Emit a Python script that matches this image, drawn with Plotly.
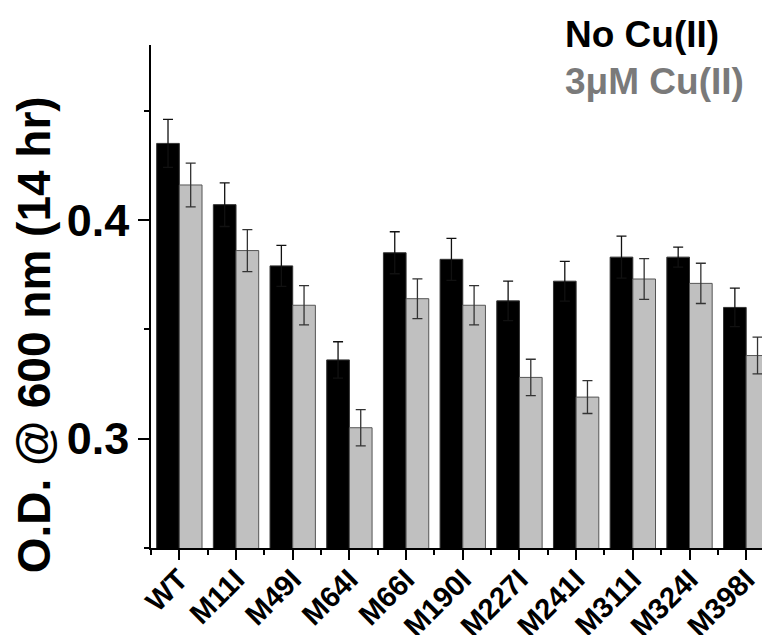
import plotly.graph_objects as go

categories = ["WT", "M11I", "M49I", "M64I", "M66I", "M190I", "M227I", "M241I", "M311I", "M324I", "M398I"]
no_cu = [0.435, 0.407, 0.379, 0.336, 0.385, 0.382, 0.363, 0.372, 0.383, 0.383, 0.360]
no_cu_err = [0.011, 0.010, 0.0094, 0.0083, 0.0096, 0.0096, 0.009, 0.0091, 0.0096, 0.0046, 0.0088]
cu3 = [0.416, 0.386, 0.361, 0.305, 0.364, 0.361, 0.328, 0.319, 0.373, 0.371, 0.338]
cu3_err = [0.010, 0.0096, 0.009, 0.0083, 0.0091, 0.009, 0.0083, 0.0075, 0.0093, 0.0092, 0.0084]

FONT = "Liberation Sans, Arial, sans-serif"
idx = list(range(len(categories)))

# page body has an 8px default margin; compensate so the plot lands where the reference has it
W, H = 762, 627
L, T, B = 143, 37, 87
PH = H - T - B

fig = go.Figure()
fig.add_trace(go.Bar(
    x=idx, y=no_cu, name="No Cu(II)",
    marker=dict(color="#000000", line=dict(color="#333333", width=1)),
    error_y=dict(type="data", array=no_cu_err, visible=True, color="#111111", thickness=1.3, width=5),
))
fig.add_trace(go.Bar(
    x=idx, y=cu3, name="3μM Cu(II)",
    marker=dict(color="#c0c0c0", line=dict(color="#555555", width=1)),
    error_y=dict(type="data", array=cu3_err, visible=True, color="#333333", thickness=1.3, width=5),
))

fig.update_layout(
    width=W, height=H,
    margin=dict(l=L, r=0, t=T, b=B),
    paper_bgcolor="white", plot_bgcolor="white",
    barmode="group", bargap=0.2, bargroupgap=0,
    showlegend=False,
    font=dict(family=FONT, color="black"),
    xaxis=dict(
        automargin=False,
        range=[-0.5, 10.42],
        tickvals=idx, ticktext=[f"<b>{c}</b>" for c in categories],
        tickangle=-45, tickfont=dict(size=29, family=FONT),
        ticklabelstandoff=-9,
        showline=True, linecolor="black", linewidth=1.5,
        ticks="outside", ticklen=10, tickwidth=1.5, tickcolor="black",
        minor=dict(ticks="outside", ticklen=5, tickwidth=1.5, tickcolor="black", tick0=0.5, dtick=1),
        showgrid=False, zeroline=False,
    ),
    yaxis=dict(
        automargin=False,
        range=[0.25, 0.48],
        tick0=0, dtick=0.1, tickformat=".1f",
        tickfont=dict(size=45, family=FONT, weight="bold"),
        showline=True, linecolor="black", linewidth=1.5,
        ticks="outside", ticklen=11, tickwidth=1.5, tickcolor="black",
        minor=dict(ticks="outside", ticklen=5, tickwidth=1.5, tickcolor="black", dtick=0.05),
        showgrid=False, zeroline=False,
    ),
    annotations=[
        dict(text="<b>O.D. @ 600 nm (14 hr)</b>", textangle=-90,
             xref="paper", x=0, xanchor="center", xshift=-117,
             yref="paper", y=(548.3 - 335.5) / PH, yanchor="middle",
             showarrow=False, font=dict(size=46, family=FONT, color="black")),
        dict(text="<b>No Cu(II)</b>", xref="paper", x=(563 - 151) / (W - L), xanchor="left",
             yref="paper", y=1 + (45 - 35) / PH, yanchor="middle",
             showarrow=False, font=dict(size=37, family=FONT, color="black")),
        dict(text="<b>3μM Cu(II)</b>", xref="paper", x=(563 - 151) / (W - L), xanchor="left",
             yref="paper", y=1 - (81 - 45) / PH, yanchor="middle",
             showarrow=False, font=dict(size=37, family=FONT, color="#7a7a7a")),
    ],
)

fig.write_html("out.html")
